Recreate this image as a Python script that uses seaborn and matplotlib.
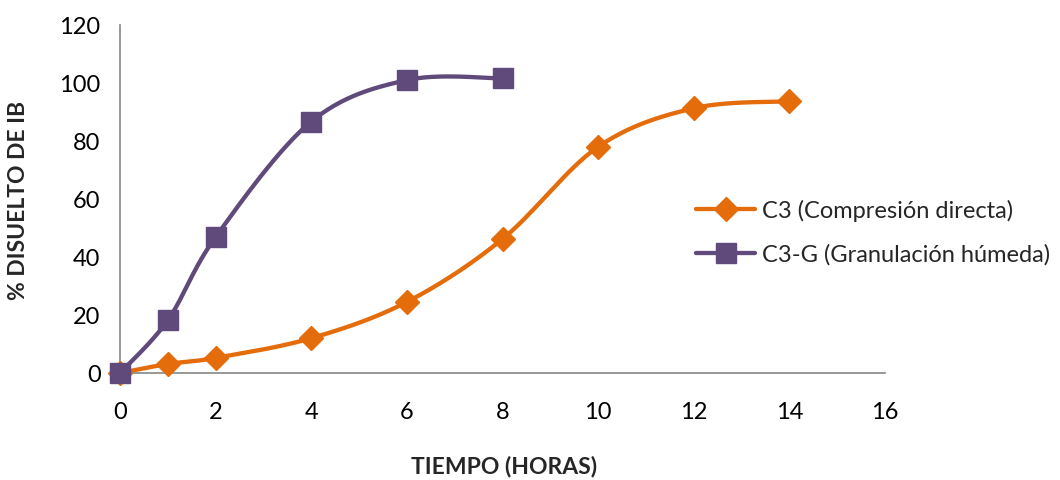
import numpy as np
import pandas as pd
import matplotlib
matplotlib.use("Agg")
import matplotlib.pyplot as plt
from matplotlib.lines import Line2D
import seaborn as sns

# Data
c3_x = [0, 1, 2, 4, 6, 8, 10, 12, 14]
c3_y = [0, 3.1, 5.2, 12.0, 24.5, 46.2, 78.0, 91.3, 93.7]
c3g_x = [0, 1, 2, 4, 6, 8]
c3g_y = [0, 18.2, 46.9, 86.7, 101.0, 101.6]
labels = ["C3 (Compresión directa)", "C3-G (Granulación húmeda)"]
colors = ["#E46C0A", "#604A7B"]
x_ticks = [0, 2, 4, 6, 8, 10, 12, 14, 16]
y_ticks = [0, 20, 40, 60, 80, 100, 120]

sns.set_theme(style="white")
plt.rcParams['font.family'] = ['Lato', 'DejaVu Sans']


def smooth(xs, ys, n=30):
    P = np.column_stack([xs, ys]).astype(float)
    P = np.vstack([P[0], P, P[-1]])
    out = []
    t = np.linspace(0, 1, n)[:, None]
    for i in range(1, len(P) - 2):
        p0, p1, p2, p3 = P[i - 1], P[i], P[i + 1], P[i + 2]
        c1 = p1 + (p2 - p0) / 6
        c2 = p2 - (p3 - p1) / 6
        seg = ((1 - t) ** 3) * p1 + 3 * ((1 - t) ** 2) * t * c1 + 3 * (1 - t) * t ** 2 * c2 + t ** 3 * p2
        out.append(seg if i == 1 else seg[1:])
    s = np.vstack(out)
    return s[:, 0], s[:, 1]


fig = plt.figure(figsize=(10.6, 4.81), dpi=100)
ax = fig.add_axes([120 / 1060, 1 - 374 / 481, (885 - 120) / 1060, (374 - 26) / 481])

series = [(c3_x, c3_y, "D", 12.5), (c3g_x, c3g_y, "s", 14)]
for (xs, ys, m, ms), col, lab in zip(series, colors, labels):
    sx, sy = smooth(xs, ys)
    df = pd.DataFrame({"x": sx, "y": sy})
    sns.lineplot(data=df, x="x", y="y", sort=False, estimator=None, color=col, lw=3.1, ax=ax)
    ax.plot(xs, ys, linestyle="none", marker=m, ms=ms, color=col, zorder=5, clip_on=False)

ax.set_xlim(0, 16)
ax.set_ylim(0, 120)
ax.set_xticks(x_ticks)
ax.set_yticks(y_ticks)
ax.tick_params(axis="both", labelsize=17, colors="#000000", length=6, width=1, direction="out")
ax.tick_params(axis="x", color="#868686", pad=14)
ax.tick_params(axis="y", color="#868686", pad=8)
for s in ["top", "right"]:
    ax.spines[s].set_visible(False)
for s in ["left", "bottom"]:
    ax.spines[s].set_color("#868686")
    ax.spines[s].set_linewidth(1.2)

ax.set_xlabel("")
ax.set_ylabel("")
fig.text(504 / 1060, 1 - 467 / 481, "TIEMPO (HORAS)", ha="center", va="center", fontsize=16.5, fontweight="bold")
fig.text(19 / 1060, 1 - 200 / 481, "% DISUELTO DE IB", ha="center", va="center", rotation=90, fontsize=16.5, fontweight="bold")

handles = [Line2D([], [], color=colors[0], lw=3.1, marker="D", ms=12.5),
           Line2D([], [], color=colors[1], lw=3.1, marker="s", ms=14)]
leg = fig.legend(handles, labels, loc="center left", bbox_to_anchor=(696 / 1060, 1 - 233 / 481),
                 frameon=False, fontsize=17, handlelength=2.5, handletextpad=0.3, labelspacing=0.95,
                 borderpad=0, borderaxespad=0)

fig.savefig("out.png", dpi=100)
